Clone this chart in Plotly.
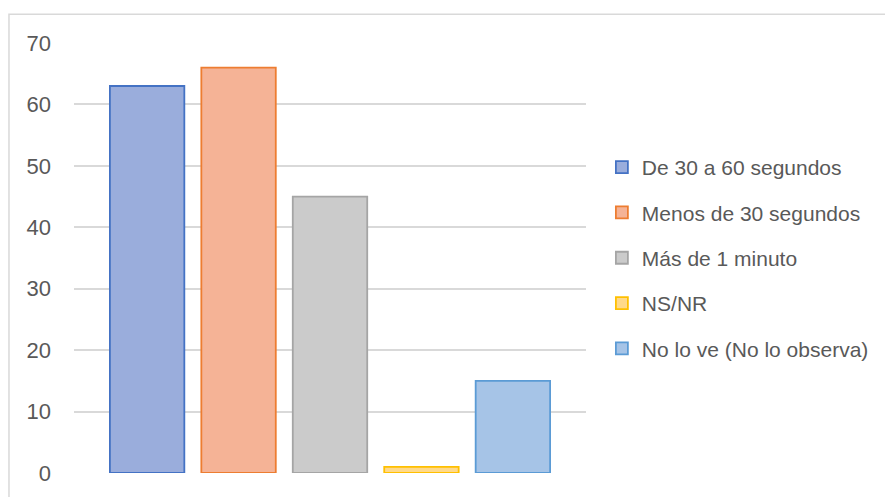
import plotly.graph_objects as go

series_names = ["De 30 a 60 segundos", "Menos de 30 segundos", "Más de 1 minuto",
                "NS/NR", "No lo ve (No lo observa)"]
series_values = [63, 66, 45, 1, 15]
fill_colors = ["#9AADDC", "#F5B396", "#CBCBCB", "#FFD98A", "#A6C4E7"]
line_colors = ["#4472C4", "#ED7D31", "#A5A5A5", "#FFC000", "#5B9BD5"]
y_ticks = [0, 10, 20, 30, 40, 50, 60, 70]

FONT = "Liberation Sans"
GRAY = "#595959"

fig = go.Figure()
for i, (name, val) in enumerate(zip(series_names, series_values)):
    fig.add_trace(go.Bar(
        x=[""], y=[val], name=name, legendgroup=f"g{i}",
        marker=dict(color=fill_colors[i], line=dict(color=line_colors[i], width=1.8)),
    ))

fig.update_layout(
    width=885, height=489,
    margin=dict(l=66, r=307, t=35, b=24),
    paper_bgcolor="white", plot_bgcolor="white",
    barmode="group", bargap=0.107, bargroupgap=0.186,
    showlegend=True,
    legend=dict(x=1.031, y=0.5, xanchor="left", yanchor="middle",
                font=dict(family=FONT, size=21, color=GRAY),
                tracegroupgap=15, traceorder="grouped",
                bgcolor="rgba(0,0,0,0)"),
    xaxis=dict(showticklabels=False, showgrid=False, zeroline=False, showline=False),
    yaxis=dict(range=[0, 70], tickvals=y_ticks, showgrid=True, gridcolor="#D9D9D9",
               gridwidth=1.5, zeroline=False, showline=False,
               tickfont=dict(family=FONT, size=22, color=GRAY),
               ticklabelstandoff=22),
    shapes=[dict(type="rect", xref="paper", yref="paper",
                 x0=-0.127, x1=1.62, y0=-0.08, y1=1.067,
                 line=dict(color="#D9D9D9", width=1.5), layer="below")],
)

fig.write_html("out.html")
